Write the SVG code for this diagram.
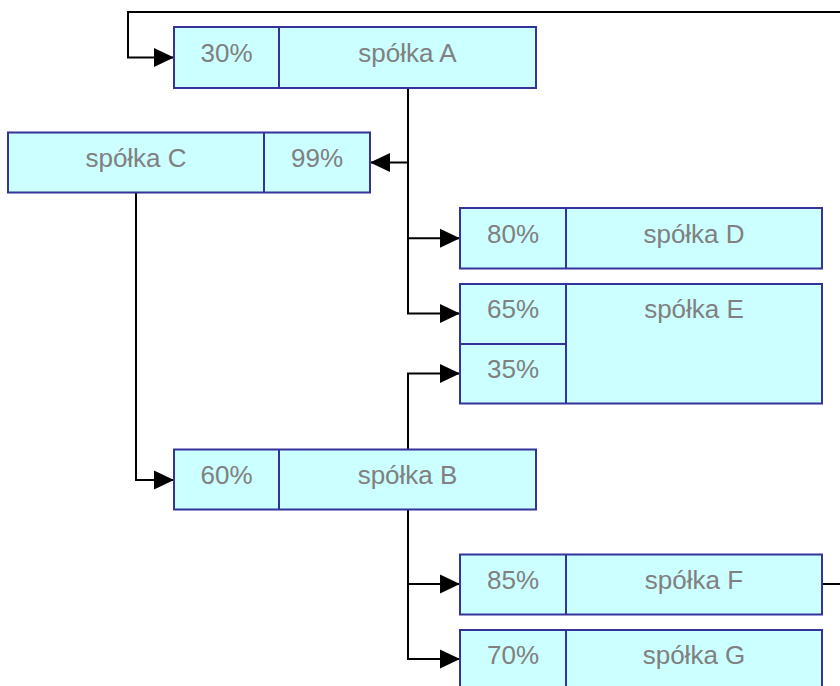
<svg xmlns="http://www.w3.org/2000/svg" width="840" height="686" viewBox="0 0 840 686">
<defs>
<marker id="arr" markerUnits="userSpaceOnUse" markerWidth="20" markerHeight="20" refX="20" refY="10" orient="auto">
<path d="M0,0.5 L20,10 L0,19.5 z" fill="#000"/>
</marker>
<style>
.box{fill:#CCFFFF;stroke:#333399;stroke-width:2}
.div{stroke:#333399;stroke-width:2;fill:none}
.t{font-family:"Liberation Sans",Arial,sans-serif;font-size:26px;fill:#808080;text-anchor:middle}
.c{fill:none;stroke:#000;stroke-width:2;marker-end:url(#arr)}
</style>
</defs>
<rect width="840" height="686" fill="#fff"/>
<g id="connectors">
<path class="c" d="M822,584 H870 V12 H128 V57.5 H174"/>
<path class="c" d="M408,88 V162.5 H370"/>
<path class="c" d="M408,88 V238.3 H460"/>
<path class="c" d="M408,88 V313.5 H460"/>
<path class="c" d="M136,192.5 V480 H174"/>
<path class="c" d="M408,449.5 V373.5 H460"/>
<path class="c" d="M408,509.5 V584 H460"/>
<path class="c" d="M408,509.5 V659 H460"/>
</g>
<g id="spolkaA">
<rect class="box" x="174" y="27" width="362" height="61"/>
<line class="div" x1="279" y1="27" x2="279" y2="88"/>
<text class="t" x="226.5" y="62.3">30%</text>
<text class="t" x="407.5" y="62.3">spółka A</text>
</g>
<g id="spolkaC">
<rect class="box" x="8" y="132.5" width="362" height="60"/>
<line class="div" x1="264" y1="132.5" x2="264" y2="192.5"/>
<text class="t" x="136" y="167.3">spółka C</text>
<text class="t" x="317" y="167.3">99%</text>
</g>
<g id="spolkaD">
<rect class="box" x="460" y="208" width="362" height="60.5"/>
<line class="div" x1="566" y1="208" x2="566" y2="268.5"/>
<text class="t" x="513" y="243.3">80%</text>
<text class="t" x="694" y="243.3">spółka D</text>
</g>
<g id="spolkaE">
<rect class="box" x="460" y="284" width="362" height="119.5"/>
<line class="div" x1="566" y1="284" x2="566" y2="403.5"/>
<line class="div" x1="460" y1="344" x2="566" y2="344"/>
<text class="t" x="513" y="318.3">65%</text>
<text class="t" x="694" y="318.3">spółka E</text>
<text class="t" x="513" y="378.3">35%</text>
</g>
<g id="spolkaB">
<rect class="box" x="174" y="449.5" width="362" height="60"/>
<line class="div" x1="279" y1="449.5" x2="279" y2="509.5"/>
<text class="t" x="226.5" y="484.3">60%</text>
<text class="t" x="407.5" y="484.3">spółka B</text>
</g>
<g id="spolkaF">
<rect class="box" x="460" y="554.5" width="362" height="60"/>
<line class="div" x1="566" y1="554.5" x2="566" y2="614.5"/>
<text class="t" x="513" y="589.3">85%</text>
<text class="t" x="694" y="589.3">spółka F</text>
</g>
<g id="spolkaG">
<rect class="box" x="460" y="630" width="362" height="60"/>
<line class="div" x1="566" y1="630" x2="566" y2="690"/>
<text class="t" x="513" y="664.3">70%</text>
<text class="t" x="694" y="664.3">spółka G</text>
</g>
</svg>
